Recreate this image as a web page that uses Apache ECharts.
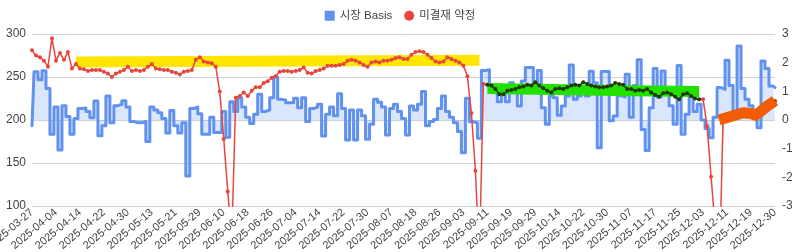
<!DOCTYPE html>
<html><head><meta charset="utf-8">
<script src="https://cdn.jsdelivr.net/npm/echarts@6/dist/echarts.min.js"></script>
<style>html,body{margin:0;padding:0;background:#fff}#c{width:800px;height:252px}</style>
</head><body><div id="c"></div>
<script>
const dates = [
'2025-03-27','2025-03-28','2025-03-31',
'2025-04-01','2025-04-02','2025-04-03','2025-04-04','2025-04-07','2025-04-08','2025-04-09','2025-04-10','2025-04-11','2025-04-14','2025-04-15','2025-04-16','2025-04-17','2025-04-18','2025-04-21','2025-04-22','2025-04-23','2025-04-24','2025-04-25','2025-04-28','2025-04-29','2025-04-30',
'2025-05-02','2025-05-07','2025-05-08','2025-05-09','2025-05-12','2025-05-13','2025-05-14','2025-05-15','2025-05-16','2025-05-19','2025-05-20','2025-05-21','2025-05-22','2025-05-23','2025-05-26','2025-05-27','2025-05-28','2025-05-29','2025-05-30',
'2025-06-02','2025-06-04','2025-06-05','2025-06-09','2025-06-10','2025-06-11','2025-06-12','2025-06-13','2025-06-16','2025-06-17','2025-06-18','2025-06-19','2025-06-20','2025-06-23','2025-06-24','2025-06-25','2025-06-26','2025-06-27','2025-06-30',
'2025-07-01','2025-07-02','2025-07-03','2025-07-04','2025-07-07','2025-07-08','2025-07-09','2025-07-10','2025-07-11','2025-07-14','2025-07-15','2025-07-16','2025-07-17','2025-07-18','2025-07-21','2025-07-22','2025-07-23','2025-07-24','2025-07-25','2025-07-28','2025-07-29','2025-07-30','2025-07-31',
'2025-08-01','2025-08-04','2025-08-05','2025-08-06','2025-08-07','2025-08-08','2025-08-11','2025-08-12','2025-08-13','2025-08-14','2025-08-18','2025-08-19','2025-08-20','2025-08-21','2025-08-22','2025-08-25','2025-08-26','2025-08-27','2025-08-28','2025-08-29',
'2025-09-01','2025-09-02','2025-09-03','2025-09-04','2025-09-05','2025-09-08','2025-09-09','2025-09-10','2025-09-11','2025-09-12','2025-09-15','2025-09-16','2025-09-17','2025-09-18','2025-09-19','2025-09-22','2025-09-23','2025-09-24','2025-09-25','2025-09-26','2025-09-29','2025-09-30',
'2025-10-01','2025-10-02','2025-10-10','2025-10-13','2025-10-14','2025-10-15','2025-10-16','2025-10-17','2025-10-20','2025-10-21','2025-10-22','2025-10-23','2025-10-24','2025-10-27','2025-10-28','2025-10-29','2025-10-30','2025-10-31',
'2025-11-03','2025-11-04','2025-11-05','2025-11-06','2025-11-07','2025-11-10','2025-11-11','2025-11-12','2025-11-13','2025-11-14','2025-11-17','2025-11-18','2025-11-19','2025-11-20','2025-11-21','2025-11-24','2025-11-25','2025-11-26','2025-11-27','2025-11-28',
'2025-12-01','2025-12-02','2025-12-03','2025-12-04','2025-12-05','2025-12-08','2025-12-09','2025-12-10','2025-12-11','2025-12-12','2025-12-15','2025-12-16','2025-12-17','2025-12-18','2025-12-19','2025-12-22','2025-12-23','2025-12-24','2025-12-26','2025-12-29','2025-12-30'
];

// 시장 Basis (right axis)
const basis = [
-0.2,1.68,1.4,1.72,1.1,-0.5,0.45,-1.05,0.5,0.12,
-0.5,0.05,0.4,0.42,0.3,0.08,0.66,-0.55,-0.2,0.84,
-0.1,0.5,0.55,0.67,0.45,-0.05,-0.1,-0.1,-0.05,-0.75,
0.45,0.35,0.25,0.05,-0.45,0.33,-0.2,-0.45,-0.1,-1.95,
0.4,0.45,0.22,-0.5,-0.5,0.1,-0.44,-0.44,0.3,-0.6,
0.64,0.3,0.78,0.45,0.1,-0.12,0.2,0.9,0.3,0.35,
0.78,1.5,0.72,0.7,0.6,0.6,0.76,0.43,0.78,-0.05,
0.4,0.45,0.55,-0.56,0.2,0.45,0.15,0.92,0.4,-0.7,
0.35,-0.7,0.35,0.15,-0.67,-0.15,0.72,0.62,0.45,-0.52,
0.4,0.55,0.3,0.05,-0.52,0.49,0.35,0.55,0.99,-0.2,
-0.05,0.02,0.4,0.84,0.3,0.1,-0.1,-0.4,-1.14,0.76,
-0.06,-0.1,-0.64,1.73,1.75,1.1,1.0,0.64,1.0,0.64,
1.3,1.0,0.49,1.36,1.83,1.83,1.13,1.73,0.43,-0.15,
0.85,0.78,0.17,0.49,0.84,1.92,0.72,0.84,1.13,0.84,
1.7,1.3,-0.97,1.69,1.69,-0.03,0.14,0.85,0.8,1.6,
0.1,1.2,2.1,-0.33,-1.06,0.43,1.8,0.8,1.71,1.0,
0.5,-0.15,1.9,-0.5,0.2,0.84,0.3,0.55,0.0,-0.3,
-0.62,0.1,1.13,1.07,2.08,1.2,0.26,2.58,1.1,0.72,
0.5,0.2,-0.27,2.06,1.8,1.19,1.13
];

// 미결재 약정 (left axis)
const openInterest = [
281,275,273,269,262,295,269,278,270,279,
260,265,260,259,257,258,258,258,256,254,
250,254,256,258,262,257,258,257,258,262,
265,260,259,258,258,256,255,253,256,257,
258,270,273,268,267,266,262,233,178,117,
60,226,228,232,228,234,238,238,243,245,
249,251,256,257,257,256,257,258,261,255,
254,257,258,260,263,263,263,264,265,269,
270,269,267,264,262,267,268,267,269,269,
270,272,273,271,271,276,279,280,279,276,
272,268,267,268,273,271,269,267,263,251,
208,141,40,242,241,240,236,230,230,234,
235,236,238,239,241,240,244,240,237,234,
232,236,237,236,238,240,241,240,244,242,
240,239,238,238,239,240,243,242,241,236,
236,234,235,234,236,232,229,227,231,232,
230,227,224,230,231,228,225,224,224,193,
134,76,10,201,202.5,204,205.5,207,208.5,209,
207.5,205,208,212,216,219,222
];

// highlighter bands (category index, left-axis value)
const yellowBandX = [11, 112];
const yellowBandY = [267.5, 269.5];
const greenBandX = [114, 150, 167];
const greenBandY = [236.5, 234, 233];
const orangeBandX = [172, 178, 180, 181, 182, 184, 186];
const orangeBandY = [200, 208.5, 207.5, 205.5, 208.5, 216, 222.5];

const leftTicks = {min: 100, max: 300, interval: 50};
const rightTicks = {min: -3, max: 3, interval: 1};

const lowBands = [
  {x: yellowBandX, y: yellowBandY, color: '#ffe500', width: 11},
  {x: greenBandX, y: greenBandY, color: '#22e000', width: 11}
];
const highBands = [
  {x: orangeBandX, y: orangeBandY, color: '#f25c05', width: 11}
];

function bandSeries(list, z) {
  return {type: 'custom', yAxisIndex: 0, z: z, silent: true, clip: false,
    data: list.map(b => [b.x[0], b.y[0]]),
    renderItem: function (params, api) {
      const b = list[params.dataIndex];
      const pts = b.x.map((xi, k) => api.coord([xi, b.y[k]]));
      return {type: 'polyline', shape: {points: pts},
        style: {stroke: b.color, lineWidth: b.width, fill: null, lineJoin: 'round', lineCap: 'butt'}};
    }};
}

const FONT = 'Arial, "Liberation Sans", "Noto Sans CJK KR", sans-serif';
const RED = '#e8453c';
const BLUE = '#6192f0';
const chart = echarts.init(document.getElementById('c'), null, {renderer: 'canvas'});
chart.setOption({
  animation: false,
  textStyle: {fontFamily: FONT},
  legend: {
    top: 5, left: 'center', itemGap: 12, itemWidth: 10, itemHeight: 10,
    textStyle: {fontSize: 11.5, color: '#444', fontFamily: FONT},
    data: [{name: '시장 Basis', icon: 'rect'}, {name: '미결재 약정', icon: 'circle'}]
  },
  visualMap: {
    show: false, type: 'piecewise', seriesIndex: 2, dimension: 0,
    pieces: [
      {lt: 113.5, color: RED},
      {gte: 113.5, lte: 167.5, color: '#1f3a05'},
      {gt: 167.5, lt: 172.5, color: RED},
      {gte: 172.5, color: '#c0260a'}
    ]
  },
  grid: {left: 32, right: 25, top: 34, bottom: 46, containLabel: false, outerBoundsMode: 'none'},
  xAxis: {
    type: 'category', data: dates, boundaryGap: false,
    axisLine: {show: false}, axisTick: {show: false},
    axisLabel: {interval: 5, rotate: 40, fontSize: 11, color: '#444', margin: 5, fontFamily: FONT},
    splitLine: {show: false}
  },
  yAxis: [
    {type: 'value', min: leftTicks.min, max: leftTicks.max, interval: leftTicks.interval,
     axisLine: {show: false}, axisTick: {show: false},
     axisLabel: {fontSize: 12, color: '#444', margin: 6, fontFamily: FONT},
     splitLine: {lineStyle: {color: '#d0d0d0', width: 1}}},
    {type: 'value', min: rightTicks.min, max: rightTicks.max, interval: rightTicks.interval,
     axisLine: {show: false}, axisTick: {show: false},
     axisLabel: {fontSize: 12, color: '#444', margin: 7, fontFamily: FONT},
     splitLine: {show: false}}
  ],
  series: [
    {name: '시장 Basis', type: 'line', yAxisIndex: 1, data: basis, step: 'middle',
     showSymbol: false, symbol: 'none', z: 2,
     itemStyle: {color: BLUE},
     lineStyle: {color: BLUE, width: 3, join: 'round', cap: 'round'},
     areaStyle: {color: 'rgba(97,146,240,0.33)', origin: 'auto'}},
    bandSeries(lowBands, 3),
    {name: '미결재 약정', type: 'line', yAxisIndex: 0, data: openInterest,
     symbol: 'circle', symbolSize: 4, showSymbol: true, showAllSymbol: true, z: 4,
     itemStyle: {color: RED},
     lineStyle: {width: 1.5}},
    bandSeries(highBands, 5)
  ]
});
</script></body></html>
